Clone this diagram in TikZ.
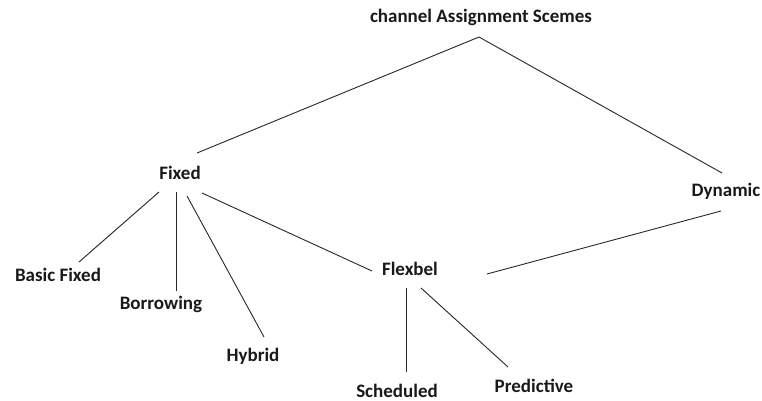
\documentclass[tikz,border=0pt]{standalone}
\usepackage{fontspec}
\setmainfont{Carlito}
\begin{document}
\begin{tikzpicture}[x=1pt,y=-1pt,
  lbl/.style={inner sep=0pt,anchor=center,font=\fontsize{19}{22}\selectfont\bfseries,text=black!90},
  conn/.style={draw=black!85,line width=0.9pt}]
\useasboundingbox (0,0) rectangle (762,401);
\node[lbl] (root) at (481,17) {channel Assignment Scemes};
\node[lbl] (fixed) at (180,173) {Fixed};
\node[lbl] (dyn) at (726,191) {Dynamic};
\node[lbl] (bf) at (58,275) {Basic Fixed};
\node[lbl] (bor) at (161,304) {Borrowing};
\node[lbl] (hyb) at (253,356) {Hybrid};
\node[lbl] (flex) at (410,269) {Flexbel};
\node[lbl] (sch) at (397,390.5) {Scheduled};
\node[lbl] (pred) at (534,386) {Predictive};
\draw[conn] ([shift={(-2,20)}]root.center) -- ([shift={(17,-20)}]fixed.center);
\draw[conn] ([shift={(-2,20)}]root.center) -- ([shift={(-4,-18)}]dyn.center);
\draw[conn] ([shift={(-21,19)}]fixed.center) -- ([shift={(21,-13)}]bf.center);
\draw[conn] ([shift={(-4,19)}]fixed.center) -- ([shift={(15,-13)}]bor.center);
\draw[conn] ([shift={(7,23)}]fixed.center) -- ([shift={(11,-19)}]hyb.center);
\draw[conn] ([shift={(22,20)}]fixed.center) -- ([shift={(-38,2)}]flex.center);
\draw[conn] ([shift={(-5,20)}]dyn.center) -- ([shift={(77,5)}]flex.center);
\draw[conn] ([shift={(-4,19)}]flex.center) -- ([shift={(9,-18.5)}]sch.center);
\draw[conn] ([shift={(11,19)}]flex.center) -- ([shift={(-26,-19)}]pred.center);
\end{tikzpicture}
\end{document}
